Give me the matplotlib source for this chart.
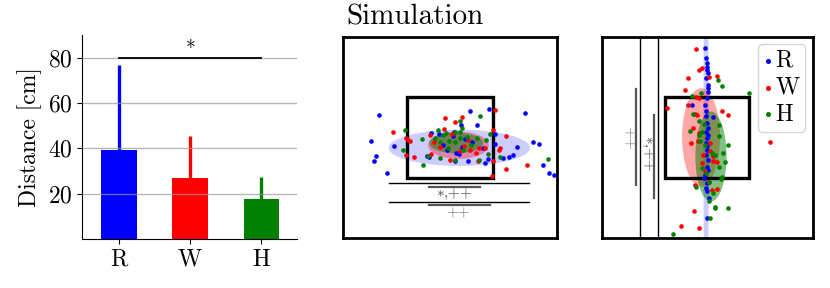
import numpy as np
import matplotlib.pyplot as plt
import matplotlib.patches as mpatches

plt.rcParams["font.family"] = ["cmr10", "DejaVu Serif"]
plt.rcParams["mathtext.fontset"] = "cm"
plt.rcParams["axes.formatter.use_mathtext"] = True

# CONFIG
LABELS = ["R", "W", "H"]
COLORS = ["blue", "red", "green"]

# bar chart: mean distance and SD [cm]
dist_mean = [39.5, 27.0, 17.5]
dist_sd   = [37.5, 18.5, 10.0]

# middle panel (horizontal), coordinates in cm, target box is +-20
mid_R_x = [-33.0, -36.6, -34.6, -35.2, -29.4, -26.0, -8.6, -5.0, 9.3, 12.8, 18.5, 21.0, 21.3, 35.0,
           38.9, 41.7, 43.3, 46.4, 48.6, 29.3, 27.4, 24.8, 16.5, 17.8, 8.4, 3.1, 4.4, 2.3, -9.7,
           -10.9, -3.1, 10.3, 1.6, 5.9, 15.6, 5.1, 31.5, 2.0, -1.5, 7.0]
mid_R_y = [10.9, -1.7, -9.5, -11.7, -17.5, -4.2, 2.4, 1.7, 12.9, 6.2, 14.3, 1.6, -3.2, 12.2,
           -2.4, -3.2, -13.7, -17.8, -18.7, -9.0, -10.0, -10.2, -12.5, -10.9, -12.0, -7.9, -8.2, -12.0, -10.0,
           -9.2, -3.7, -2.4, 0.9, -4.6, -5.4, 6.2, -4.9, 2.9, -6.5, -1.0]
mid_W_x = [-26.5, -20.6, -19.5, -18.8, -20.7, -16.8, -2.2, 2.5, 5.8, 21.2, 20.2, 26.2, 23.4, 23.1,
           20.2, 26.0, 35.8, 19.6, 0.0, -8.9, 12.0, 13.2, 13.7, 16.4, -2.6, -9.3, -4.7, 6.5, 8.6,
           4.7, -7.3, 9.3, 0.9]
mid_W_y = [2.6, -0.1, -1.4, -1.7, -8.7, -9.7, 9.5, 7.5, 9.9, 13.8, 3.7, 0.7, -5.4, -6.2,
           -11.7, -15.7, -13.8, -19.3, -11.2, -8.2, -7.9, -11.7, -5.1, -5.4, 4.2, 1.2, -4.6, -4.2, -1.2,
           -7.0, -2.1, -6.2, 1.7]
mid_H_x = [-20.9, -21.8, -13.2, -12.5, -10.1, -4.7, 2.3, 4.7, 14.0, 18.7, 16.7, 17.6, 23.4, 13.7,
           45.6, -5.5, -3.1, -1.6, -0.3, 2.3, 4.7, 7.8, 10.1, -4.7, -7.0, 5.5, 6.2, -0.8, 2.3,
           12.5, 4.7]
mid_H_y = [3.7, -6.2, -0.7, -13.7, -9.2, -10.4, -11.2, 8.2, 10.4, 1.6, -1.2, -8.2, -10.0, -11.2,
           -10.7, 3.7, 1.2, 2.0, -1.7, 2.6, 2.9, 0.4, -3.7, -2.1, -0.4, 4.9, -6.2, -5.4, -2.1,
           -0.4, -0.4]

# right panel (vertical)
rt_R_x = [-0.8, -0.5, 0.0, -0.3, 0.2, -0.5, 0.3, 0.5, -0.2, -0.8, -0.5, 0.0, -0.6, 0.3,
          -0.5, 0.0, -0.6, 0.5, 0.0, -0.8, -0.2, 0.0, 0.7, 0.0, -7.4, 3.0, -1.5, 0.6,
          -0.3, 0.4, -0.4, 0.1, -0.2, 0.3, -0.4]
rt_R_y = [44.4, 39.4, 35.2, 33.6, 31.9, 29.4, 26.1, 22.8, 19.5, 16.2, 10.4, 7.0, 2.9, 1.2,
          -2.9, -6.2, -8.7, -11.2, -14.5, -18.7, -22.8, -26.9, -30.3, -39.9, 16.2, 9.9, -20.0, 4.5,
          37.0, 24.5, 13.0, -0.5, -4.5, -16.0, -25.0]
rt_W_x = [-5.5, -4.0, -2.4, -9.0, 0.7, 4.6, -10.6, -5.5, -4.0, -19.2, -9.0, -4.8, -5.8, 6.9,
          9.7, 29.8, -3.9, 1.5, 3.0, 4.6, -2.4, -5.8, -6.3, -12.5, -3.7, 2.3, 4.6, 0.7, -2.1,
          -4.2, -6.6, -1.2, 1.5, -7.9, 2.7]
rt_W_y = [44.0, 33.6, 34.7, 29.4, 29.8, 30.3, 23.6, 20.3, 19.8, 14.5, 16.2, 11.2, 11.5, 13.2,
          11.2, -2.1, 2.1, -3.0, -12.0, -12.2, -12.9, -23.6, -36.6, -43.9, -44.9, -26.1, -25.5, -22.0, -8.7,
          -2.0, 4.9, -16.7, -7.0, -2.9, -9.5]
rt_H_x = [-16.4, 6.9, 5.1, 19.9, -7.1, -2.7, -6.8, -4.0, -1.6, 5.4, -8.3, -4.0, -2.5, -3.2,
          5.4, 10.0, -1.2, 2.3, 3.8, 7.7, 8.5, -0.5, -5.5, 7.2, 6.6, 0.7, 3.8, 10.0, 3.8,
          1.5, 0.7, 3.0, -2.4, 5.4]
rt_H_y = [-48.2, 25.8, 28.3, 22.0, 20.8, 22.0, 11.5, 8.2, 6.6, 6.2, 3.4, 1.2, 2.5, -2.0,
          0.7, -3.7, -3.7, -7.9, -8.7, -7.9, -12.4, -17.8, -24.5, -19.5, -20.6, -31.6, -34.4, -34.9, -35.2,
          -40.2, -22.0, -27.8, -15.3, -14.5]

# spread ellipses: (cx, cy, width, height)
mid_ell = [(4.4, -5.2, 66.0, 18.0), (4.0, -3.9, 28.4, 13.6), (3.0, -2.8, 25.2, 10.2)]
rt_ell  = [(-0.5, 0.0, 2.6, 200.0), (-2.9, 0.0, 18.0, 48.8), (1.8, -9.5, 14.8, 44.8)]
ELL_ALPHA = [0.2, 0.35, 0.5]

FS = 17
SIG_STAR = r"$\ast$"

fig = plt.figure(figsize=(8.3, 2.88), dpi=100)

# ══════════════════════════════════════════════════════════════════════
# Bar chart
# ══════════════════════════════════════════════════════════════════════
ax = fig.add_axes([0.0988, 0.170, 0.259, 0.708])
xs = np.arange(len(LABELS))
ax.bar(xs, dist_mean, width=0.5, color=COLORS, zorder=1)
for x, m, s, c in zip(xs, dist_mean, dist_sd, COLORS):
    ax.vlines(x, m, m + s, color=c, lw=2.4, zorder=2)
ax.set_axisbelow(False)
ax.yaxis.grid(True, color="#999999", lw=1.0, alpha=0.7, zorder=3)
ax.plot([0, 2], [80, 80], color="black", lw=1.3, zorder=4)
ax.text(1, 79.5, "*", ha="center", va="bottom", fontsize=14)
ax.set_xlim(-0.52, 2.5)
ax.set_ylim(0, 90)
ax.set_yticks([20, 40, 60, 80])
ax.set_xticks(xs)
ax.set_xticklabels(LABELS)
ax.tick_params(labelsize=FS)
ax.set_ylabel("Distance [cm]", fontsize=FS)
ax.spines[["top", "right"]].set_visible(False)


def scatter_panel(rect, pts, ells):
    a = fig.add_axes(rect)
    for (cx, cy, w, h), c, al in zip(ells, COLORS, ELL_ALPHA):
        a.add_patch(mpatches.Ellipse((cx, cy), w, h, color=c, alpha=al, lw=0, zorder=1))
    a.add_patch(mpatches.Rectangle((-20, -20), 40, 40, fill=False, ec="black", lw=2.4, zorder=2))
    for (px, py), c, lbl in zip(pts, COLORS, LABELS):
        a.scatter(px, py, s=11, color=c, lw=0, zorder=3, label=lbl)
    a.set_xlim(-50, 50)
    a.set_ylim(-50, 50)
    a.set_xticks([])
    a.set_yticks([])
    for sp in a.spines.values():
        sp.set_linewidth(2.0)
    return a


# ══════════════════════════════════════════════════════════════════════
# Middle panel
# ══════════════════════════════════════════════════════════════════════
am = scatter_panel([0.413, 0.174, 0.258, 0.698],
                   [(mid_R_x, mid_R_y), (mid_W_x, mid_W_y), (mid_H_x, mid_H_y)], mid_ell)
am.plot([-28.3, 37.1], [-22.8, -22.8], color="black", lw=1.0)
am.plot([-9.7, 14.0], [-24.5, -24.5], color="#555555", lw=1.6)
am.text(2.3, -28.3, SIG_STAR + ",++", ha="center", va="center", fontsize=11, color="#444444")
am.plot([-28.3, 37.1], [-32.3, -32.3], color="black", lw=1.0)
am.plot([-9.7, 18.7], [-33.7, -33.7], color="#555555", lw=1.6)
am.text(3.9, -37.2, "++", ha="center", va="center", fontsize=11, color="#777777")

# ══════════════════════════════════════════════════════════════════════
# Right panel
# ══════════════════════════════════════════════════════════════════════
ar = scatter_panel([0.725, 0.174, 0.254, 0.698],
                   [(rt_R_x, rt_R_y), (rt_W_x, rt_W_y), (rt_H_x, rt_H_y)], rt_ell)
ar.plot([-32.0, -32.0], [-50, 50], color="black", lw=1.0)
ar.plot([-33.6, -33.6], [-23.6, 24.1], color="#555555", lw=1.6)
ar.text(-37.0, 0.0, "++", ha="center", va="center", rotation=-90, fontsize=11, color="#777777")
ar.plot([-23.4, -23.4], [-50, 50], color="black", lw=1.0)
ar.plot([-25.0, -25.0], [-30.3, 11.2], color="#555555", lw=1.6)
ar.text(-28.4, -7.9, SIG_STAR + ",++", ha="center", va="center", rotation=-90, fontsize=11,
        color="#444444")
ar.legend(loc="upper right", fontsize=FS, handletextpad=0.1, handlelength=0.4,
          borderpad=0.25, labelspacing=0.2, borderaxespad=0.3, markerscale=1.1)

fig.text(0.5, 0.94, "Simulation", ha="center", va="center", fontsize=21)

plt.savefig("out.png", dpi=100)
plt.close()
